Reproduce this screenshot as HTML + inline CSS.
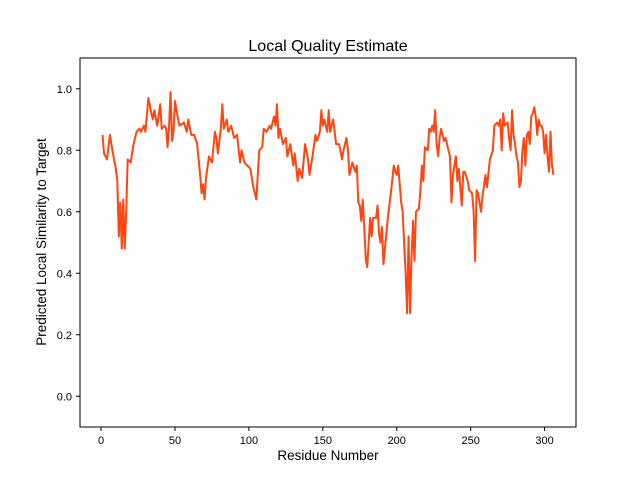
<!DOCTYPE html>
<html><head><meta charset="utf-8"><style>
body{margin:0;background:#fff;}
svg{display:block;font-family:"Liberation Sans","DejaVu Sans",sans-serif;}
</style></head><body>
<svg id="chart" width="640" height="480">
<rect width="640" height="480" fill="#fff"/>
<text x="328" y="51" font-size="16" text-anchor="middle">Local Quality Estimate</text>
<text x="328" y="460" font-size="13.5" text-anchor="middle">Residue Number</text>
<text transform="translate(46,242) rotate(-90)" font-size="13.5" text-anchor="middle">Predicted Local Similarity to Target</text>
<g id="xticks"></g>
<g id="yticks"></g>
<path id="line" fill="none" stroke="#ff4512" stroke-width="2" stroke-linejoin="round"/>
<rect x="80" y="58" width="496" height="369" fill="none" stroke="#000" stroke-width="1"/>
</svg>
<script>
const xTicks=[0,50,100,150,200,250,300];
const yTicks=[0.0,0.2,0.4,0.6,0.8,1.0];
const residues=[1,2,4,6,8,10,11,12,13,14,15,16,17,18,20,22,24,26,27,29,30,32,34,35,36,38,40,41,43,44,45,46,47,48,49,50,51,53,56,58,59,61,63,65,67,68,69,70,71,73,75,77,78,79,81,82,83,85,86,88,90,92,94,95,97,99,101,103,105,107,109,110,112,114,115,117,118,119,120,121,123,125,126,128,130,131,133,134,136,138,140,141,143,145,146,148,149,150,151,153,154,155,157,159,161,163,164,166,167,168,170,172,173,174,175,176,177,178,179,180,181,182,183,184,186,187,188,189,190,191,192,194,196,198,199,200,201,203,204,205,206,207,208,209,210,211,212,213,215,216,217,218,219,221,222,223,224,225,226,227,228,229,230,232,233,235,236,237,238,240,241,242,243,244,245,246,248,249,251,252,253,254,255,257,258,260,261,263,265,266,268,269,270,271,272,273,275,276,277,278,279,280,281,282,283,284,285,286,287,288,289,290,291,292,293,294,295,296,297,298,299,300,301,302,303,304,305,306];
const scores=[.85,.79,.77,.85,.79,.74,.70,.52,.63,.48,.64,.48,.60,.77,.76,.82,.86,.87,.86,.88,.86,.97,.92,.90,.93,.88,.95,.87,.88,.87,.81,.88,.99,.83,.86,.96,.93,.88,.89,.86,.90,.85,.85,.82,.72,.66,.69,.64,.71,.78,.76,.86,.84,.79,.87,.95,.87,.90,.86,.88,.84,.85,.76,.80,.76,.75,.74,.68,.64,.80,.81,.87,.86,.88,.87,.91,.88,.95,.84,.87,.82,.84,.78,.82,.75,.79,.70,.74,.71,.82,.77,.72,.78,.85,.83,.86,.93,.88,.90,.86,.93,.86,.90,.82,.82,.77,.80,.84,.80,.72,.76,.73,.75,.63,.62,.57,.64,.55,.45,.42,.50,.58,.52,.58,.58,.62,.53,.50,.55,.43,.48,.58,.66,.75,.73,.72,.75,.63,.60,.50,.40,.27,.52,.27,.45,.57,.44,.60,.61,.67,.75,.70,.81,.80,.87,.86,.88,.86,.93,.82,.78,.84,.87,.83,.84,.80,.78,.63,.72,.78,.70,.74,.68,.62,.73,.73,.70,.67,.66,.60,.44,.67,.66,.60,.65,.72,.68,.77,.80,.88,.89,.88,.90,.80,.92,.88,.89,.84,.80,.93,.85,.82,.78,.76,.68,.70,.80,.84,.75,.85,.86,.82,.91,.92,.94,.91,.85,.90,.88,.88,.86,.79,.85,.78,.73,.86,.75,.72];
const L=80,R=576,T=58,B=427,xMin=-14.25,xMax=321.25,yMin=-0.1,yMax=1.1;
function sx(v){return L+(v-xMin)/(xMax-xMin)*(R-L);}
function sy(v){return B-(v-yMin)/(yMax-yMin)*(B-T);}
const NS='http://www.w3.org/2000/svg';
const xg=document.getElementById('xticks'),yg=document.getElementById('yticks');
xTicks.forEach(t=>{
 const l=document.createElementNS(NS,'line');
 l.setAttribute('x1',sx(t));l.setAttribute('x2',sx(t));l.setAttribute('y1',B);l.setAttribute('y2',B+4);l.setAttribute('stroke','#000');
 
 
 xg.appendChild(l);
 const tx=document.createElementNS(NS,'text');
 tx.setAttribute('x',sx(t));tx.setAttribute('y',B+17);tx.setAttribute('font-size','11');tx.setAttribute('text-anchor','middle');
 tx.textContent=t;
 
 
 xg.appendChild(tx);
});
yTicks.forEach(t=>{
 const l=document.createElementNS(NS,'line');
 l.setAttribute('x1',L-4);l.setAttribute('x2',L);l.setAttribute('y1',sy(t));l.setAttribute('y2',sy(t));l.setAttribute('stroke','#000');
 
 
 yg.appendChild(l);
 const tx=document.createElementNS(NS,'text');
 tx.setAttribute('x',L-8);tx.setAttribute('y',sy(t)+4);tx.setAttribute('font-size','11');tx.setAttribute('text-anchor','end');
 tx.textContent=t.toFixed(1);
 
 
 yg.appendChild(tx);
});
let d='';
residues.forEach((r,i)=>{d+=(i?'L':'M')+sx(r).toFixed(2)+','+sy(scores[i]).toFixed(2);});
document.getElementById('line').setAttribute('d',d);
</script>
</body></html>
